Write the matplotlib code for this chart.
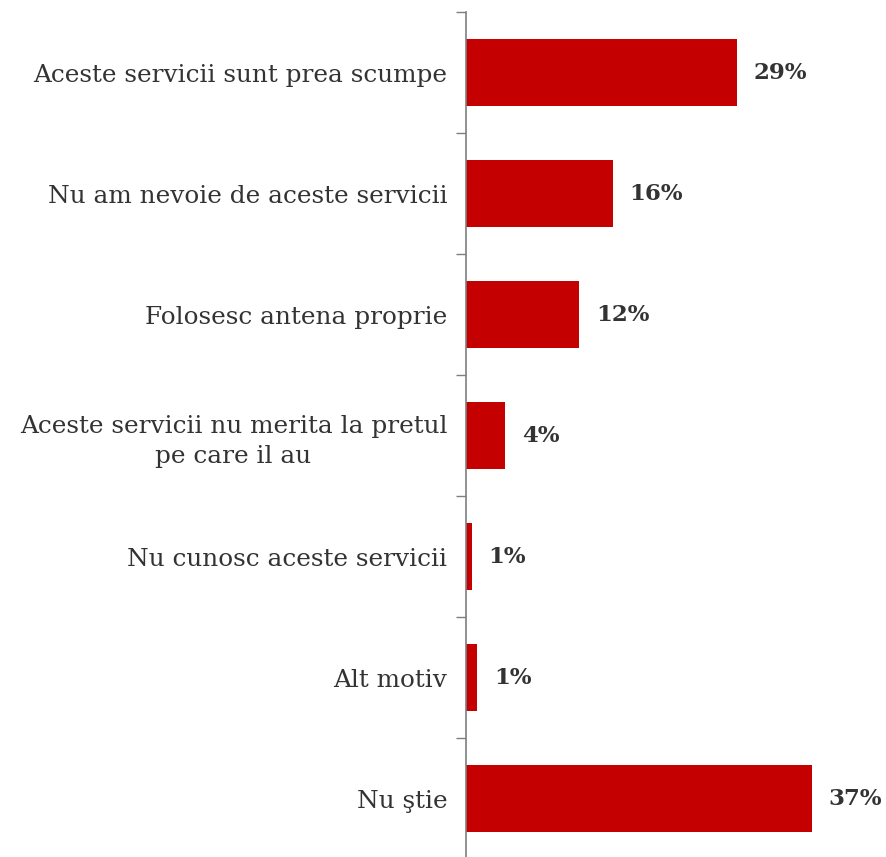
import matplotlib
matplotlib.use("Agg")
import matplotlib.pyplot as plt

categories = [
    "Aceste servicii sunt prea scumpe",
    "Nu am nevoie de aceste servicii",
    "Folosesc antena proprie",
    "Aceste servicii nu merita la pretul\npe care il au",
    "Nu cunosc aceste servicii",
    "Alt motiv",
    "Nu ştie",
]
values = [29, 15.7, 12.1, 4.2, 0.6, 1.2, 37]
value_labels = ["29%", "16%", "12%", "4%", "1%", "1%", "37%"]

W, H = 886, 857
fig = plt.figure(figsize=(W / 100, H / 100), dpi=100)
left = 466 / W
right = 840 / W
top = 1 - 12 / H
bottom = -2 / H
ax = fig.add_axes([left, bottom, right - left, top - bottom])

n = len(categories)
ypos = list(range(n))
ax.barh(ypos, values, height=0.55, color="#C40000", edgecolor="none")
ax.set_ylim(n - 0.5, -0.5)
ax.set_xlim(0, 40)

ax.set_yticks(ypos)
ax.set_yticklabels(categories, fontsize=17.8, family="DejaVu Serif", color="#333333",
                   multialignment="center", linespacing=1.4)
ax.tick_params(axis="y", length=0, pad=13.5)
# tick marks at category boundaries
ax.set_yticks([i - 0.5 for i in range(n + 1)], minor=True)
ax.tick_params(axis="y", which="minor", length=7, width=1, color="#7f7f7f")

ax.set_xticks([])
for s in ["top", "right", "bottom"]:
    ax.spines[s].set_visible(False)
ax.spines["left"].set_color("#7f7f7f")
ax.spines["left"].set_linewidth(1.2)

for y, v, lab in zip(ypos, values, value_labels):
    ax.annotate(lab, (v, y), xytext=(12, 0), textcoords="offset points",
                ha="left", va="center", fontsize=16.5, fontweight="bold",
                family="DejaVu Serif", color="#333333")

fig.savefig("out.png", dpi=100)
